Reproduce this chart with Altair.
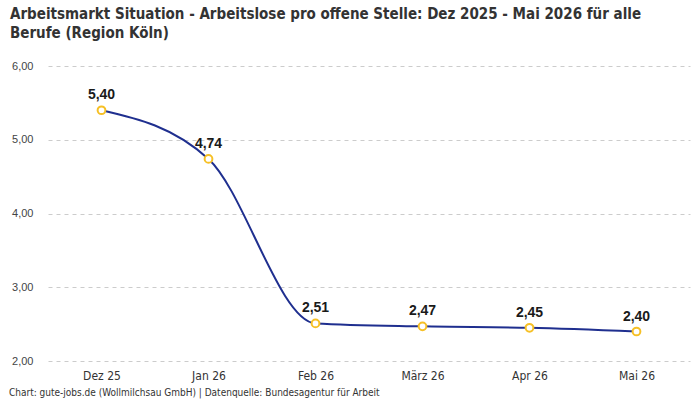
import altair as alt
import pandas as pd

months = ["Dez 25", "Jan 26", "Feb 26", "März 26", "Apr 26", "Mai 26"]
ratio = [5.40, 4.74, 2.51, 2.47, 2.45, 2.40]

title_lines = [
    "Arbeitsmarkt Situation - Arbeitslose pro offene Stelle: Dez 2025 - Mai 2026 für alle",
    "Berufe (Region Köln)",
]
footer = "Chart: gute-jobs.de (Wollmilchsau GmbH) | Datenquelle: Bundesagentur für Arbeit"

W, H = 642, 295
NARROW = "DejaVu Sans Condensed, Liberation Sans Narrow, sans-serif"
SANS = "Liberation Sans, Arial, sans-serif"

df = pd.DataFrame({"monat": months, "wert": ratio})

x_enc = alt.X(
    "monat:N",
    sort=months,
    scale=alt.Scale(paddingInner=0, paddingOuter=0),
    axis=alt.Axis(
        title=None, labelAngle=0, ticks=False, domain=False, grid=False,
        labelFont=NARROW, labelFontSize=12, labelColor="#333333", labelPadding=9,
    ),
)
y_enc = alt.Y(
    "wert:Q",
    scale=alt.Scale(domain=[2, 6], nice=False, zero=False),
    axis=alt.Axis(
        title=None, values=[2, 3, 4, 5, 6], ticks=False, domain=False,
        labelExpr="replace(format(datum.value, '.2f'), '.', ',')",
        labelFont=SANS, labelFontSize=11, labelColor="#444444", labelPadding=15,
        grid=True, gridDash=[4, 4], gridColor="#cccccc", gridWidth=1,
    ),
)

base = alt.Chart(df).transform_calculate(
    label="replace(format(datum.wert, '.2f'), '.', ',')"
)

line = base.mark_line(interpolate="monotone", color="#1f2f8f", strokeWidth=2).encode(x=x_enc, y=y_enc)
points = base.mark_point(
    shape="circle", filled=True, fill="white", stroke="#f6c026", strokeWidth=2, size=60, opacity=1
).encode(x=x_enc, y=y_enc)
labels = base.mark_text(
    font=SANS, fontSize=14, fontWeight="bold", color="#1a1a1a", baseline="bottom", dy=-8
).encode(x=x_enc, y=y_enc, text="label:N")

foot = alt.Chart(pd.DataFrame({"t": [footer]})).mark_text(
    font=NARROW, fontSize=10, color="#333333", align="left", baseline="middle"
).encode(x=alt.value(-39), y=alt.value(H + 32), text="t:N")

chart = (
    alt.layer(line, points, labels, foot)
    .properties(
        width=W,
        height=H,
        autosize=alt.AutoSizeParams(type="none"),
        padding={"left": 48, "top": 66, "right": 10, "bottom": 39},
        title=alt.TitleParams(
            text=title_lines, anchor="start", frame="group", dx=-38, offset=19,
            font=NARROW, fontSize=15, fontWeight="bold", color="#333333", lineHeight=19,
        ),
    )
    .configure(background="white")
    .configure_view(stroke="transparent", strokeWidth=0)
)

chart.save("out.html", embed_options={"renderer": "svg", "actions": False})
